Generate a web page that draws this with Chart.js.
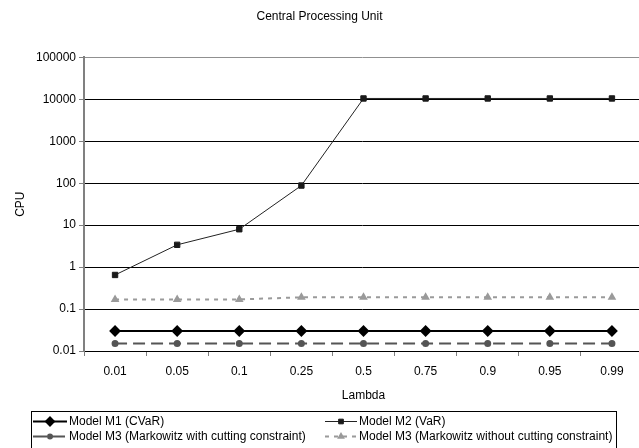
<!DOCTYPE html>
<html>
<head>
<meta charset="utf-8">
<script src="https://cdn.jsdelivr.net/npm/chart.js@4/dist/chart.umd.min.js"></script>
<style>
    html, body { margin: 0; padding: 0; background: #fff; }
    #wrap { width: 639px; height: 448px; }
</style>
</head>
<body>
<div id="wrap"><canvas id="cpu-chart"></canvas></div>
<script>
// Chart data
const lambdas = ['0.01', '0.05', '0.1', '0.25', '0.5', '0.75', '0.9', '0.95', '0.99'];
const m1Cvar = [0.03, 0.03, 0.03, 0.03, 0.03, 0.03, 0.03, 0.03, 0.03];
const m2Var = [0.65, 3.4, 8, 88, 10500, 10500, 10500, 10500, 10500];
const m3Cutting = [0.015, 0.015, 0.015, 0.015, 0.015, 0.015, 0.015, 0.015, 0.015];
const m3NoCutting = [0.17, 0.17, 0.17, 0.19, 0.19, 0.19, 0.19, 0.19, 0.19];
const yTicks = [0.01, 0.1, 1, 10, 100, 1000, 10000, 100000];

const FONT = '"Liberation Sans", Arial, sans-serif';

// The original plot area runs a few pixels past the right edge
const overflowPlugin = {
    id: 'rightOverflow',
    afterLayout(chart) {
        const extra = 4;
        const x = chart.scales.x;
        chart.chartArea.right += extra;
        chart.chartArea.width += extra;
        x.right += extra;
        x.width += extra;
        x.configure();
    }
};

// Legend drawn in two columns, like the original
const legendPlugin = {
    id: 'twoColLegend',
    afterDraw(chart) {
        const ctx = chart.ctx;
        const ds = chart.data.datasets;
        const slots = [
            { i: 0, x: 33, y: 421.5, w: 34 },
            { i: 1, x: 325, y: 421.5, w: 32 },
            { i: 2, x: 33, y: 436.5, w: 34 },
            { i: 3, x: 325, y: 436.5, w: 32 }
        ];
        ctx.save();
        ctx.strokeStyle = '#000';
        ctx.lineWidth = 1;
        ctx.strokeRect(31.5, 411.5, 585, 45);

        slots.forEach(s => {
            const d = ds[s.i];
            ctx.save();
            ctx.strokeStyle = d.borderColor;
            ctx.lineWidth = d.borderWidth;
            ctx.setLineDash(d.legendDash || []);
            ctx.beginPath();
            ctx.moveTo(s.x, s.y);
            ctx.lineTo(s.x + s.w, s.y);
            ctx.stroke();
            ctx.setLineDash([]);
            ctx.fillStyle = d.pointBackgroundColor;
            ctx.strokeStyle = d.pointBorderColor;
            Chart.helpers.drawPoint(ctx, {
                pointStyle: d.pointStyle,
                radius: d.pointRadius - 0.5,
                rotation: 0,
                borderWidth: 1
            }, s.x + s.w / 2, s.y);
            ctx.restore();

            ctx.fillStyle = '#000';
            ctx.font = '12px ' + FONT;
            ctx.textBaseline = 'middle';
            ctx.textAlign = 'left';
            ctx.fillText(d.label, s.x + s.w + 2, s.y);
        });
        ctx.restore();
    }
};

new Chart(document.getElementById('cpu-chart'), {
    type: 'line',
    data: {
        labels: lambdas,
        datasets: [{
            label: 'Model M1 (CVaR)',
            data: m1Cvar,
            borderColor: '#000',
            borderWidth: 2,
            pointStyle: 'rectRot',
            pointRadius: 4.5,
            pointBackgroundColor: '#000',
            pointBorderColor: '#000'
        }, {
            label: 'Model M2 (VaR)',
            data: m2Var,
            borderColor: '#222',
            borderWidth: 1,
            pointStyle: 'rect',
            pointRadius: 3.8,
            pointBackgroundColor: '#1a1a1a',
            pointBorderColor: '#1a1a1a'
        }, {
            label: 'Model M3 (Markowitz with cutting constraint)',
            data: m3Cutting,
            borderColor: '#555',
            borderWidth: 2,
            borderDash: [12, 6],
            legendDash: [14, 4],
            pointStyle: 'circle',
            pointRadius: 2.5,
            pointBackgroundColor: '#555',
            pointBorderColor: '#555'
        }, {
            label: 'Model M3 (Markowitz without cutting constraint)',
            data: m3NoCutting,
            borderColor: '#9a9a9a',
            borderWidth: 2,
            borderDash: [4, 5],
            legendDash: [4, 5],
            pointStyle: 'triangle',
            pointRadius: 3,
            pointBackgroundColor: '#9a9a9a',
            pointBorderColor: '#9a9a9a'
        }]
    },
    options: {
        responsive: true,
        maintainAspectRatio: false,
        animation: false,
        layout: {
            autoPadding: false,
            padding: { left: 0, right: 0, top: 0, bottom: 37 }
        },
        plugins: {
            legend: { display: false },
            tooltip: { enabled: false },
            title: {
                display: true,
                text: 'Central Processing Unit',
                color: '#000',
                font: { family: FONT, size: 12, weight: 'normal' },
                padding: { top: 9, bottom: 34 }
            }
        },
        elements: {
            line: { tension: 0 },
            point: { borderWidth: 1 }
        },
        scales: {
            x: {
                offset: true,
                grid: {
                    offset: true,
                    drawOnChartArea: false,
                    color: '#808080',
                    tickLength: 5
                },
                border: { color: '#000', width: 1 },
                ticks: {
                    color: '#000',
                    padding: 8,
                    maxRotation: 0,
                    font: { family: FONT, size: 12 }
                },
                title: {
                    display: true,
                    text: 'Lambda',
                    color: '#000',
                    font: { family: FONT, size: 12 },
                    padding: { top: 0, bottom: 8 }
                },
                afterFit(scale) {
                    scale.height = 60;
                    scale.paddingLeft = 0;
                    scale.paddingRight = 0;
                }
            },
            y: {
                type: 'logarithmic',
                min: 0.01,
                max: 100000,
                grid: {
                    color: ctx => (ctx.tick && ctx.tick.value === 100000) ? '#909090' : '#000',
                    tickColor: '#808080',
                    tickLength: 5
                },
                border: { color: '#808080', width: 2 },
                ticks: {
                    color: '#000',
                    padding: 3,
                    font: { family: FONT, size: 12 },
                    callback: v => String(v)
                },
                afterBuildTicks(scale) {
                    scale.ticks = yTicks.map(v => ({ value: v }));
                },
                title: {
                    display: true,
                    text: 'CPU',
                    color: '#000',
                    font: { family: FONT, size: 12 },
                    padding: { top: 13, bottom: 0 }
                },
                afterFit(scale) {
                    scale.width = 84;
                }
            }
        }
    },
    plugins: [overflowPlugin, legendPlugin]
});
</script>
</body>
</html>
